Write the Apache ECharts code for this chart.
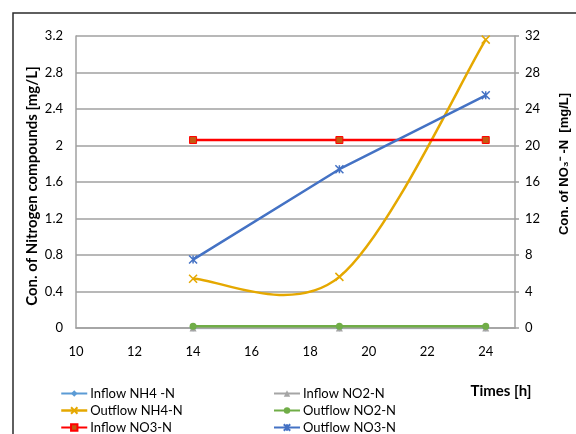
<!DOCTYPE html>
<html><head><meta charset="utf-8">
<script src="https://cdn.jsdelivr.net/npm/echarts@6/dist/echarts.min.js"></script>
<style>html,body{margin:0;padding:0;background:#fff}#c{width:576px;height:434px}</style>
</head><body><div id="c"></div>
<script>
var times = [14, 19, 24];
var inflowNH4 = [0, 0, 0];
var inflowNO2 = [0, 0, 0];
var outflowNH4 = [0.54, 0.56, 3.16];
var outflowNO2 = [0.02, 0.02, 0.02];
var inflowNO3 = [20.6, 20.6, 20.6];
var outflowNO3 = [7.5, 17.4, 25.5];
var seriesNames = ['Inflow NH4 -N', 'Inflow NO2-N', 'Outflow NH4-N', 'Outflow NO2-N', 'Inflow NO3-N', 'Outflow NO3-N'];

function pairs(v){ return times.map(function(t,i){ return [t, v[i]]; }); }
var FONT = 'Lato, "Liberation Sans", sans-serif';
var xPath = 'path://M0,0L10,10M10,0L0,10';
var starPath = 'path://M0,0L10,10M10,0L0,10M5,0L5,10';
var GOLD = '#e5a800';

// Excel-style smoothed curve (Bezier through the data points, pixel positions from the axes)
function smoothRender(params, api) {
  if (params.dataIndex !== 0) return;
  var p = times.map(function(t, i){ return api.coord([t, outflowNH4[i]]); });
  var n = p.length, d = 'M' + p[0][0] + ',' + p[0][1];
  for (var i = 0; i < n - 1; i++) {
    var p0 = p[Math.max(i - 1, 0)], p1 = p[i], p2 = p[i + 1], p3 = p[Math.min(i + 2, n - 1)];
    var c1x = p1[0] + (p2[0] - p0[0]) / 6, c1y = p1[1] + (p2[1] - p0[1]) / 6;
    var c2x = p2[0] - (p3[0] - p1[0]) / 6, c2y = p2[1] - (p3[1] - p1[1]) / 6;
    d += 'C' + c1x + ',' + c1y + ',' + c2x + ',' + c2y + ',' + p2[0] + ',' + p2[1];
  }
  return {type: 'path', shape: {pathData: d}, style: {fill: null, stroke: GOLD, lineWidth: 2.5}};
}

var chart = echarts.init(document.getElementById('c'), null, {renderer:'canvas'});
chart.setOption({
  animation: false,
  backgroundColor: '#fff',
  grid: {left: 76, top: 36, right: 61, bottom: 106, containLabel: false},
  xAxis: {
    type: 'value', min: 10, max: 25, interval: 2,
    axisLine: {show: true, lineStyle: {color: '#a0a0a0', width: 1.5}},
    axisTick: {show: false},
    splitLine: {show: false},
    axisLabel: {showMaxLabel: false, margin: 17, color: '#000', fontSize: 13, fontFamily: FONT}
  },
  yAxis: [{
    type: 'value', min: 0, max: 3.2, interval: 0.4, position: 'left',
    axisLine: {show: true, lineStyle: {color: '#a0a0a0', width: 1.5}},
    axisTick: {show: false},
    splitLine: {show: true, lineStyle: {color: '#a0a0a0', width: 1.5}},
    axisLabel: {margin: 13, color: '#000', fontSize: 13, fontFamily: FONT}
  }, {
    type: 'value', min: 0, max: 32, interval: 4, position: 'right',
    axisLine: {show: true, lineStyle: {color: '#a0a0a0', width: 1.5}},
    axisTick: {show: true, inside: false, length: 4, lineStyle: {color: '#a0a0a0', width: 1.5}},
    splitLine: {show: false},
    axisLabel: {margin: 10, color: '#000', fontSize: 13, fontFamily: FONT}
  }],
  legend: [{
    orient: 'vertical', left: 55, top: 382, height: 80, itemGap: 4, itemWidth: 26, itemHeight: 8,
    data: [seriesNames[0], {name: seriesNames[2], lineStyle: {color: GOLD, width: 2.5, opacity: 1}}, seriesNames[4]],
    textStyle: {color: '#000', fontSize: 13, fontFamily: FONT, padding: [0,0,0,-2]}
  }, {
    orient: 'vertical', left: 268, top: 382, height: 80, itemGap: 4, itemWidth: 26, itemHeight: 8,
    data: [seriesNames[1], seriesNames[3], seriesNames[5]],
    textStyle: {color: '#000', fontSize: 13, fontFamily: FONT, padding: [0,0,0,-2]}
  }],
  graphic: [
    {type: 'rect', shape: {x: 13, y: 13, width: 700, height: 600}, style: {fill: 'none', stroke: '#2b2b2b', lineWidth: 1.5}, silent: true},
    {type: 'text', x: 32, y: 186, rotation: Math.PI/2, style: {text: 'Con. of Nitrogen compounds [mg/L]', font: 'bold 15px ' + FONT, fill: '#000', textAlign: 'center', textVerticalAlign: 'middle'}},
    {type: 'text', x: 564, y: 164, rotation: Math.PI/2, style: {text: 'Con. of NO\u2083\u207B -N  [mg/L]', font: 'bold 13px "Liberation Sans", Arial, sans-serif', fill: '#000', textAlign: 'center', textVerticalAlign: 'middle'}},
    {type: 'text', x: 501, y: 391, style: {text: 'Times [h]', font: 'bold 15px ' + FONT, fill: '#000', textAlign: 'center', textVerticalAlign: 'middle'}}
  ],
  series: [
    {name: seriesNames[0], type: 'line', yAxisIndex: 0, data: pairs(inflowNH4), symbol: 'diamond', symbolSize: 7,
     lineStyle: {color: '#5b9bd5', width: 2.5}, itemStyle: {color: '#5b9bd5'}},
    {name: seriesNames[1], type: 'line', yAxisIndex: 0, data: pairs(inflowNO2), symbol: 'triangle', symbolSize: 7,
     lineStyle: {color: '#a5a5a5', width: 2.5}, itemStyle: {color: '#a5a5a5'}},
    {name: 'curve', type: 'custom', yAxisIndex: 0, data: pairs(outflowNH4), renderItem: smoothRender, silent: true,
     encode: {x: 0, y: 1}},
    {name: seriesNames[2], type: 'line', yAxisIndex: 0, data: pairs(outflowNH4), symbol: xPath, symbolSize: 8,
     lineStyle: {color: GOLD, width: 2.5, opacity: 0}, itemStyle: {color: GOLD, borderColor: GOLD, borderWidth: 1.5}},
    {name: seriesNames[3], type: 'line', yAxisIndex: 0, data: pairs(outflowNO2), symbol: 'circle', symbolSize: 7,
     lineStyle: {color: '#70ad47', width: 2.5}, itemStyle: {color: '#70ad47'}},
    {name: seriesNames[4], type: 'line', yAxisIndex: 1, data: pairs(inflowNO3), symbol: 'rect', symbolSize: 7,
     lineStyle: {color: '#ff0000', width: 2.5}, itemStyle: {color: '#c55a11', borderColor: '#ff0000', borderWidth: 1}},
    {name: seriesNames[5], type: 'line', yAxisIndex: 1, data: pairs(outflowNO3), symbol: starPath, symbolSize: 8,
     lineStyle: {color: '#4472c4', width: 2.5}, itemStyle: {color: '#4472c4', borderColor: '#4472c4', borderWidth: 1.5}}
  ]
});
</script></body></html>
